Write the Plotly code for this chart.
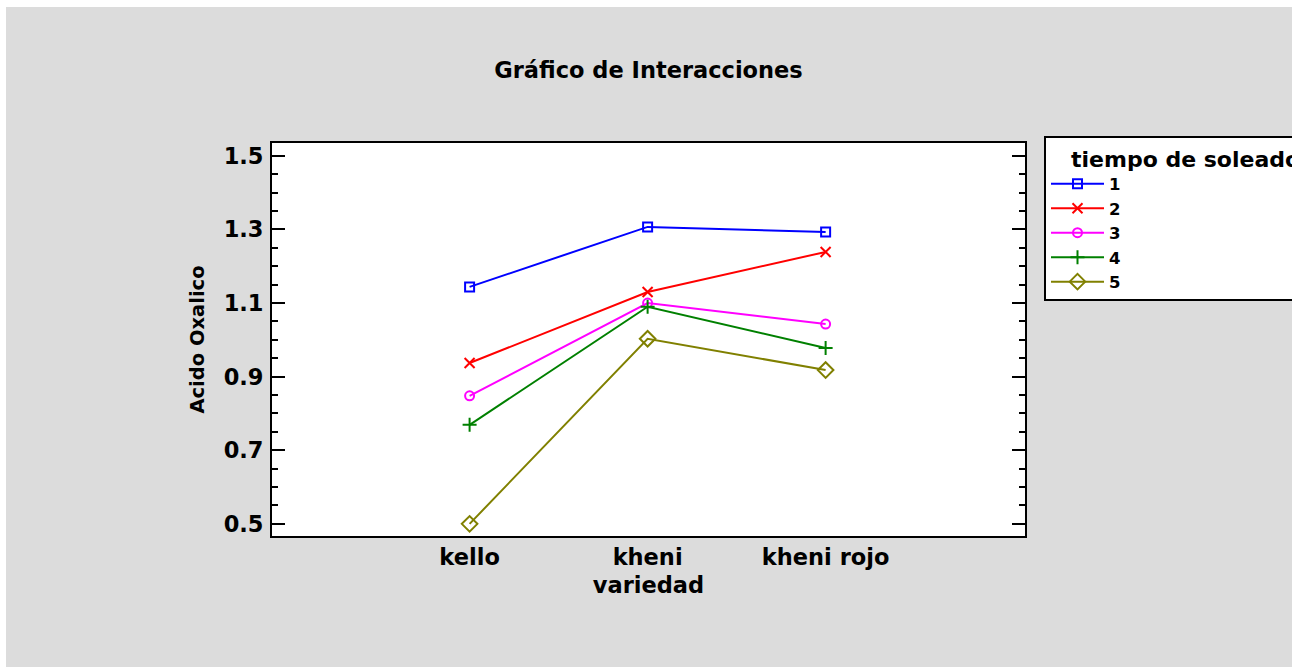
import plotly.graph_objects as go

variedad = ["kello", "kheni", "kheni rojo"]
tiempos = ["1", "2", "3", "4", "5"]
acido_1 = [1.144, 1.307, 1.293]
acido_2 = [0.937, 1.130, 1.239]
acido_3 = [0.848, 1.100, 1.043]
acido_4 = [0.769, 1.090, 0.978]
acido_5 = [0.500, 1.003, 0.918]
series = [acido_1, acido_2, acido_3, acido_4, acido_5]

colors = ["#0000ff", "#ff0000", "#ff00ff", "#008000", "#808000"]
symbols = ["square-open", "x-thin-open", "circle-open", "cross-thin-open", "diamond-open"]
sizes = [9, 10, 9, 10, 12]

FONT = "DejaVu Sans"
W, H = 1292, 667
L, R, T, B = 272, 1025, 143, 536

fig = go.Figure()
for name, vals, c, s, sz in zip(tiempos, series, colors, symbols, sizes):
    fig.add_trace(go.Scatter(
        x=variedad, y=vals, name=name, mode="lines+markers",
        line=dict(color=c, width=2),
        marker=dict(symbol=s, size=sz, color=c, line=dict(color=c, width=2)),
    ))

fig.update_layout(
    width=W, height=H,
    margin=dict(l=L, r=W - R, t=T, b=H - B, autoexpand=False),
    paper_bgcolor="#dcdcdc",
    plot_bgcolor="white",
    font=dict(family=FONT, size=22, color="black", weight="bold"),
    title=dict(text="<b>Gráfico de Interacciones</b>", x=(L + R) / 2 / W, xanchor="center",
               y=1 - 70 / H, yanchor="middle", xref="container", yref="container",
               font=dict(family=FONT, size=22.5, color="black")),
    showlegend=True,
    legend=dict(
        title=dict(text="<b>&nbsp;&nbsp;&nbsp;tiempo de soleado</b>",
                   font=dict(family=FONT, size=22)),
        x=(1044 - L) / (R - L), xanchor="left",
        y=(B - 136) / (B - T), yanchor="top",
        bgcolor="white", bordercolor="black", borderwidth=2,
        font=dict(family=FONT, size=16.5, color="black", weight="bold"),
        tracegroupgap=0, itemwidth=53,
    ),
)

fig.update_xaxes(
    type="category", range=[-1.11, 3.12],
    showgrid=False, zeroline=False,
    showline=True, linecolor="black", linewidth=2, mirror=True,
    ticks="", tickfont=dict(family=FONT, size=22.5, weight="bold"),
    title=dict(text="<b>variedad</b>", standoff=8, font=dict(family=FONT, size=22.5)),
)
fig.update_yaxes(
    range=[0.467, 1.535],
    tickvals=[0.5, 0.7, 0.9, 1.1, 1.3, 1.5],
    ticktext=["0.5", "0.7", "0.9", "1.1", "1.3", "1.5"],
    showgrid=False, zeroline=False,
    showline=True, linecolor="black", linewidth=2, mirror="ticks",
    ticks="inside", ticklen=13, tickwidth=2, tickcolor="black",
    minor=dict(dtick=0.05, tick0=0.5, ticks="inside", ticklen=6, tickwidth=1.5,
               tickcolor="black", showgrid=False),
    tickfont=dict(family=FONT, size=22.5, weight="bold"),
    ticklabelstandoff=2,
    title=dict(text="<b>Acido Oxalico</b>", standoff=14, font=dict(family=FONT, size=19.5)),
)

# thin white strips along the top and left edges of the page
fig.add_shape(type="rect", xref="paper", yref="paper",
              x0=-L / (R - L) - 0.1, x1=(W - L) / (R - L) + 0.1,
              y0=(B - 7) / (B - T), y1=B / (B - T) + 0.1,
              fillcolor="white", line=dict(width=0), layer="above")
fig.add_shape(type="rect", xref="paper", yref="paper",
              x0=-L / (R - L) - 0.1, x1=(6 - L) / (R - L),
              y0=-(H - B) / (B - T) - 0.1, y1=B / (B - T) + 0.1,
              fillcolor="white", line=dict(width=0), layer="above")

fig.write_html("out.html", config={"displayModeBar": False},
               post_script="document.body.style.margin='0';document.body.style.overflow='hidden';")
